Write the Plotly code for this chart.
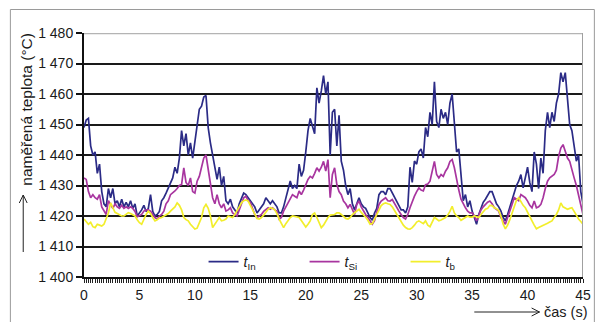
import plotly.graph_objects as go

# ---------------- data (sampled every 0.2 s) ----------------
STEP = 0.2

t_in = [
    1449, 1451.5, 1452, 1443, 1440,
    1441, 1434, 1437, 1428, 1424,
    1423, 1429, 1426, 1429, 1424,
    1425, 1423, 1425.5, 1423, 1424.5,
    1423, 1425, 1422.5, 1424, 1420,
    1421, 1422, 1423.5, 1421.5, 1422.5,
    1427, 1421.5, 1420, 1420.5, 1421.5,
    1425, 1426, 1427.5, 1429, 1431,
    1432.5, 1436, 1434, 1439, 1448,
    1443, 1447, 1440, 1444, 1439,
    1444, 1450, 1455, 1456, 1459,
    1459.5, 1449, 1444, 1440, 1436,
    1432, 1436, 1430, 1433, 1425,
    1424, 1425.5, 1423, 1422, 1421,
    1424, 1426, 1427.5, 1427, 1426,
    1425, 1424, 1423, 1421, 1422,
    1423, 1424, 1426, 1425, 1424,
    1425, 1424, 1423, 1421, 1421,
    1423, 1426, 1428, 1431.5, 1429,
    1430, 1429, 1437, 1433, 1435,
    1441, 1448, 1452, 1449, 1447,
    1462, 1457, 1461, 1466, 1460,
    1464, 1440, 1454, 1455, 1443,
    1453, 1438, 1435, 1430, 1427,
    1429, 1424, 1422, 1424, 1426,
    1424, 1423, 1422.5, 1421, 1419.5,
    1418.6, 1421, 1422.5, 1427, 1428,
    1428, 1427, 1429, 1429, 1427.5,
    1426, 1425, 1423.5, 1422, 1422,
    1421, 1423, 1436, 1431, 1438,
    1437, 1441, 1442, 1439, 1449,
    1446, 1454, 1450, 1464, 1451,
    1449, 1455, 1452, 1454, 1450,
    1457, 1460, 1450, 1441, 1442,
    1433, 1425, 1427, 1423, 1425,
    1421.6, 1419.5, 1417.3, 1420.5, 1422.5,
    1424.5, 1425.5, 1427, 1428, 1428,
    1426, 1424, 1423, 1421.6, 1419.5,
    1418.4, 1420.5, 1423, 1425, 1428,
    1430, 1431.4, 1433.6, 1429.2, 1433,
    1436, 1431, 1428, 1441, 1437,
    1429, 1439, 1434, 1448, 1454,
    1449, 1454, 1451, 1457, 1460,
    1467, 1464, 1467, 1457, 1450,
    1448, 1442, 1438, 1440, 1428,
    1424,
]

t_si = [
    1432.5, 1432, 1428, 1426, 1427,
    1426, 1425.5, 1427, 1423, 1421.5,
    1420.5, 1425, 1423.5, 1422.5, 1424,
    1423, 1422.5, 1423.5, 1422.5, 1423,
    1422.5, 1423, 1422.5, 1421.5, 1419.7,
    1420, 1420.5, 1421.6, 1422, 1422,
    1421.6, 1420.5, 1419.5, 1419, 1420,
    1420.5, 1421.6, 1424, 1425, 1427,
    1427.5, 1428.2, 1429, 1430, 1430.3,
    1435.8, 1431, 1430, 1432.5, 1428,
    1427.5, 1431.4, 1433, 1436, 1439,
    1440, 1435, 1430.3, 1426, 1424,
    1427, 1424, 1422.7, 1424, 1421.6,
    1422, 1422.7, 1421, 1420.5, 1420,
    1422, 1424, 1426, 1426.5, 1425,
    1424.5, 1422.5, 1420.5, 1419.5, 1420,
    1420.5, 1421.5, 1422, 1422.7, 1422.2,
    1422.7, 1422, 1421.6, 1419, 1419.5,
    1421.6, 1423, 1424.5, 1426, 1427,
    1426.5, 1426, 1428.2, 1427, 1428.5,
    1430.3, 1432, 1433, 1432.5, 1434,
    1435.8, 1434.7, 1436, 1437.9, 1434.7,
    1438.5, 1426, 1433.6, 1435.8, 1430.3,
    1428, 1427, 1424.9, 1424, 1422.7,
    1423.8, 1422, 1420.5, 1423.8, 1424.9,
    1423, 1421.6, 1420.5, 1419.5, 1418.4,
    1417.3, 1418.5, 1421, 1423.8, 1424.9,
    1425.5, 1426, 1425, 1424.9, 1425.4,
    1424, 1423, 1421.6, 1420.5, 1419.5,
    1419, 1420.5, 1422.7, 1424.9, 1426.5,
    1428, 1429.2, 1428.5, 1428.2, 1430.3,
    1430.5, 1431.4, 1434.7, 1437.9, 1433.6,
    1432.5, 1433.6, 1433, 1434.7, 1435.8,
    1437.9, 1438.5, 1435.8, 1431.4, 1428.5,
    1425.5, 1424, 1422.7, 1421.6, 1421,
    1421, 1420, 1418.4, 1420.5, 1422,
    1423, 1423.8, 1424.5, 1424.9, 1424,
    1422.7, 1422, 1421.6, 1419.5, 1418.4,
    1417.3, 1419.5, 1422, 1423.8, 1426,
    1425.5, 1425, 1427, 1426.5, 1426,
    1424.9, 1423.5, 1422.7, 1424.9, 1422.7,
    1423, 1423.8, 1426, 1429, 1431.4,
    1432.5, 1433, 1433.6, 1435, 1439.5,
    1442.3, 1443.4, 1441.2, 1439, 1437.9,
    1434.7, 1432.5, 1430, 1427, 1424.5,
    1420.5,
]

t_b = [
    1419, 1418, 1417.3, 1417.9, 1416.5,
    1416.2, 1417.3, 1417, 1416.7, 1417.3,
    1419.5, 1421, 1424.3, 1422.7, 1421.2,
    1420.8, 1420.5, 1420, 1420, 1420.5,
    1421.1, 1420.8, 1420.5, 1420, 1418.8,
    1417.8, 1417.3, 1419, 1420.5, 1421.6,
    1420.8, 1419.5, 1418.4, 1418.8, 1419.3,
    1419.5, 1420, 1420.3, 1420.8, 1421.6,
    1422.3, 1423, 1424.3, 1423.5, 1422,
    1419.5, 1418.8, 1418.4, 1417.3, 1416.3,
    1415.7, 1416, 1417.5, 1419.5, 1422.7,
    1423.8, 1422.5, 1420, 1416.2, 1417.5,
    1418.4, 1419.5, 1418.4, 1418.6, 1419,
    1420, 1419.7, 1419.5, 1420.5, 1422,
    1423, 1424.3, 1425, 1425.3, 1424.9,
    1423.5, 1422, 1420.5, 1419.2, 1419,
    1419.5, 1420.3, 1421.2, 1422.2, 1422.7,
    1422.5, 1422, 1420.8, 1419, 1417.3,
    1416.2, 1417.5, 1418.6, 1419.5, 1420,
    1419.8, 1419.5, 1419.5, 1418.5, 1417.3,
    1416.4, 1417.3, 1418.4, 1420.5, 1421,
    1419.5, 1417.5, 1416.2, 1417, 1418.5,
    1419.5, 1420.3, 1420.5, 1420.5, 1421,
    1421, 1420.5, 1419.8, 1419.2, 1419,
    1419.5, 1420.5, 1421.1, 1421.5, 1422.2,
    1421.2, 1420.5, 1419.6, 1418.6, 1417.3,
    1417.5, 1419, 1420.8, 1422.2, 1423.4,
    1424, 1424.3, 1424, 1423.8, 1423,
    1421.8, 1420.8, 1419.5, 1418, 1417,
    1416.2, 1415.8, 1415.7, 1416.2, 1417,
    1418, 1418.4, 1417.8, 1417.5, 1418.4,
    1417, 1416.5, 1418, 1419.5, 1419,
    1418.4, 1418.7, 1419, 1419.5, 1420.3,
    1421.5, 1423.2, 1421, 1420, 1419.5,
    1418.6, 1419, 1419.5, 1420, 1419.6,
    1419.6, 1420, 1419.8, 1419.5, 1420.5,
    1421.5, 1422.2, 1422.5, 1423.5, 1423.4,
    1422.7, 1422.4, 1421.8, 1420, 1417.3,
    1415.8, 1417, 1418.8, 1420.8, 1423.5,
    1425.2, 1426, 1424.5, 1423.5, 1422.7,
    1421.4, 1420, 1418.4, 1417, 1415.8,
    1416.2, 1416.5, 1416.8, 1417.3, 1417.6,
    1418, 1418.4, 1419.5, 1420.5, 1422,
    1424.3, 1423, 1422.7, 1422.2, 1422.5,
    1422.7, 1421.5, 1420.2, 1419, 1418.2,
    1417.3,
]

time_s = [round(i * STEP, 1) for i in range(len(t_in))]

y_ticks = [1400, 1410, 1420, 1430, 1440, 1450, 1460, 1470, 1480]
y_tick_labels = ["1 400", "1 410", "1 420", "1 430", "1 440", "1 450", "1 460", "1 470", "1 480"]
x_major = [0, 5, 10, 15, 20, 25, 30, 35, 40, 45]
# a tick at every sample, labelled only at the whole 5-second marks
x_tick_text = [str(int(round(t))) if round(t, 1) in x_major else "" for t in time_s]

series_names = ["<i>t</i><sub>In</sub>", "<i>t</i><sub>Si</sub>", "<i>t</i><sub>b</sub>"]
series_colors = ["#2b2b86", "#a8359f", "#f2ee2c"]

# ---------------- layout geometry ----------------
W, H = 603, 322
ML, MR, MT, MB = 84, 14, 33, 45
PW, PH = W - ML - MR, H - MT - MB


def px(x):
    return (x - ML) / PW


def py(y):
    return (H - MB - y) / PH


FONT = "Liberation Sans, Arial, sans-serif"

fig = go.Figure()
for vals, name, col in zip([t_in, t_si, t_b], series_names, series_colors):
    fig.add_trace(go.Scatter(x=time_s, y=vals, mode="lines", name=name,
                             line=dict(color=col, width=1.7)))

fig.update_layout(
    width=W, height=H,
    margin=dict(l=ML, r=MR, t=MT, b=MB, pad=0),
    paper_bgcolor="white", plot_bgcolor="white",
    font=dict(family=FONT, size=14, color="#1a1a1a"),
    showlegend=True,
    legend=dict(orientation="h", x=px(205), y=py(262), xanchor="left", yanchor="middle",
                bgcolor="rgba(0,0,0,0)", font=dict(size=14), entrywidth=56,
                entrywidthmode="pixels", itemwidth=30, traceorder="normal"),
    xaxis=dict(range=[0, 45], tickmode="array", tickvals=time_s, ticktext=x_tick_text,
               ticks="outside", ticklen=4, tickwidth=1, tickcolor="#222", showgrid=False,
               zeroline=False, showline=True, linecolor="#111", linewidth=2,
               tickfont=dict(size=14), tickangle=0),
    yaxis=dict(range=[1400, 1480], tickvals=y_ticks, ticktext=y_tick_labels, ticks="outside",
               ticklen=6, tickwidth=1.5, tickcolor="#111", showgrid=True, gridcolor="#1a1a1a",
               gridwidth=2, zeroline=False, showline=True, linecolor="#111", linewidth=2,
               tickfont=dict(size=14)),
)

shapes = [
    # outer frame
    dict(type="rect", xref="paper", yref="paper", x0=px(9.5), x1=px(600.5), y0=py(340), y1=py(9.5),
         line=dict(color="#9a9a9a", width=1), layer="below"),
    # top and right plot borders (light gray)
    dict(type="line", xref="x", yref="y", x0=0, x1=45, y0=1480, y1=1480,
         line=dict(color="#b4b4b4", width=2.5), layer="above"),
    dict(type="line", xref="x", yref="y", x0=45, x1=45, y0=1400, y1=1480,
         line=dict(color="#a0a0a0", width=2), layer="above"),
    # y-title arrow
    dict(type="path", xref="paper", yref="paper",
         path=f"M {px(22.5)},{py(252)} L {px(22.5)},{py(195)}", line=dict(color="#222", width=1)),
    dict(type="path", xref="paper", yref="paper",
         path=f"M {px(18.5)},{py(203)} L {px(22.5)},{py(195)} L {px(26.5)},{py(203)}",
         line=dict(color="#222", width=1)),
    # x-title arrow
    dict(type="path", xref="paper", yref="paper",
         path=f"M {px(479)},{py(312)} L {px(545)},{py(312)}", line=dict(color="#222", width=1)),
    dict(type="path", xref="paper", yref="paper",
         path=f"M {px(537)},{py(308)} L {px(545)},{py(312)} L {px(537)},{py(316)}",
         line=dict(color="#222", width=1)),
]
fig.update_layout(shapes=shapes)

fig.add_annotation(text="naměřená teplota (°C)", xref="paper", yref="paper", x=px(25), y=py(109),
                   textangle=-90, showarrow=False, font=dict(size=15.5), xanchor="center",
                   yanchor="middle")
fig.add_annotation(text="čas (s)", xref="paper", yref="paper", x=px(548), y=py(312),
                   showarrow=False, font=dict(size=14.5), xanchor="left", yanchor="middle")

fig.write_html("out.html")
